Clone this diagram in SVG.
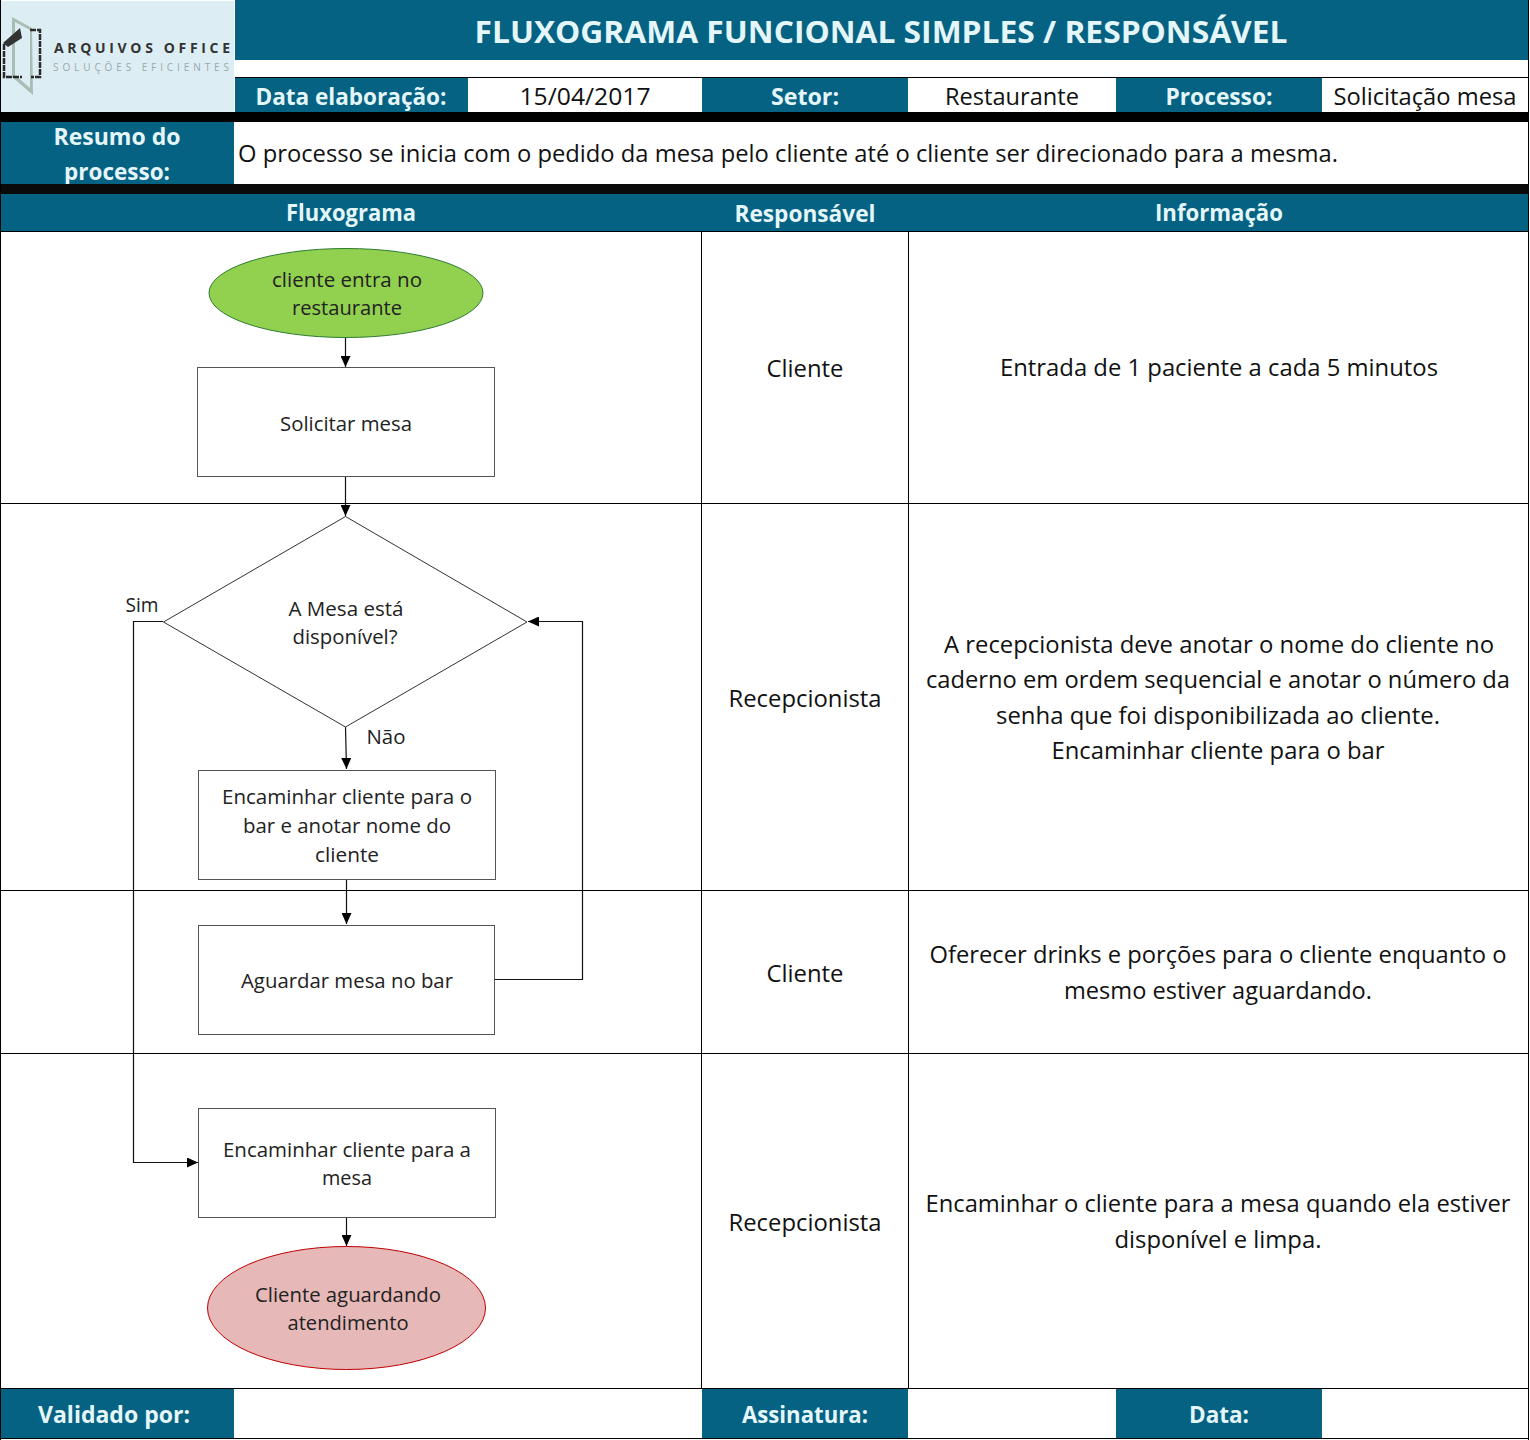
<svg xmlns="http://www.w3.org/2000/svg" width="1530" height="1440" viewBox="0 0 1530 1440">
<style>
text{font-family:"Open Sans","Noto Sans","Liberation Sans",sans-serif}
.h{fill:#E4F6FA;font-weight:700;text-anchor:middle}
.b{fill:#111;text-anchor:middle;font-size:24px}
.f{fill:#222;text-anchor:middle;font-size:20px}
.hd{fill:#056282}
.ln{stroke:#000;stroke-width:1;fill:none}
.box{fill:#fff;stroke:#555;stroke-width:1}
.c{stroke:#111;stroke-width:1.2;fill:none}
</style>
<defs><marker id="a" markerWidth="12" markerHeight="10" refX="11" refY="5" orient="auto" markerUnits="userSpaceOnUse"><path d="M0 0L11 5L0 10Z" fill="#000"/></marker></defs>
<rect width="1530" height="1440" fill="#fff"/>
<g id="header">
<rect x="1" y="1" width="233" height="111" fill="#DCEDF3"/>
<path d="M12 17L32 28L33 95L12 77Z" fill="#A9BDB5"/>
<path d="M15 22L30 30L30 88L15 75Z" fill="#DCEDF3"/>
<path d="M3 43L20 28L22 38L8 47Z" fill="#333"/>
<path d="M4 44V77H22M30 30H40V77H31" fill="none" stroke="#2b2b2b" stroke-width="2.500" stroke-dasharray="6 1"/>
<text x="54" y="53" font-size="14" font-weight="700" fill="#333" textLength="176" lengthAdjust="spacing">ARQUIVOS OFFICE</text>
<text x="53" y="71" font-size="10" fill="#9aa" textLength="176" lengthAdjust="spacing">SOLUÇÕES EFICIENTES</text>
<rect class="hd" x="235" y="0" width="1293" height="60"/>
<text class="h" x="881" y="43" font-size="31" textLength="813" lengthAdjust="spacingAndGlyphs">FLUXOGRAMA FUNCIONAL SIMPLES / RESPONSÁVEL</text>
<path class="ln" d="M235 77.500H1528M1528.500 0V1440"/>
<rect class="hd" x="235" y="78" width="233" height="34"/>
<rect class="hd" x="702" y="78" width="206" height="34"/>
<rect class="hd" x="1116" y="78" width="206" height="34"/>
<text class="h" x="351" y="105" font-size="24" textLength="191" lengthAdjust="spacingAndGlyphs">Data elaboração:</text>
<text class="b" x="585" y="105" textLength="131" lengthAdjust="spacingAndGlyphs">15/04/2017</text>
<text class="h" x="805" y="105" font-size="24" textLength="68" lengthAdjust="spacingAndGlyphs">Setor:</text>
<text class="b" x="1012" y="105" textLength="134" lengthAdjust="spacingAndGlyphs">Restaurante</text>
<text class="h" x="1219" y="105" font-size="24" textLength="107" lengthAdjust="spacingAndGlyphs">Processo:</text>
<text class="b" x="1425" y="105" textLength="183" lengthAdjust="spacingAndGlyphs">Solicitação mesa</text>
<rect x="0" y="112" width="1529" height="10" fill="#000"/>
</g>
<g id="summary">
<rect class="hd" x="1" y="122" width="233" height="62"/>
<text class="h" x="117" y="145" font-size="24" textLength="127" lengthAdjust="spacingAndGlyphs">Resumo do</text>
<text class="h" x="117" y="180" font-size="24" textLength="106" lengthAdjust="spacingAndGlyphs">processo:</text>
<text class="b" x="238" y="162" style="text-anchor:start" textLength="1100" lengthAdjust="spacingAndGlyphs">O processo se inicia com o pedido da mesa pelo cliente até o cliente ser direcionado para a mesma.</text>
<rect x="0" y="184" width="1529" height="10" fill="#0a0a0a"/>
</g>
<g id="table-head">
<rect class="hd" x="1" y="194" width="1527" height="37"/>
<text class="h" x="351" y="221" font-size="24" textLength="130" lengthAdjust="spacingAndGlyphs">Fluxograma</text>
<text class="h" x="805" y="222" font-size="24" textLength="141" lengthAdjust="spacingAndGlyphs">Responsável</text>
<text class="h" x="1219" y="221" font-size="24" textLength="128" lengthAdjust="spacingAndGlyphs">Informação</text>
</g>
<g id="grid">
<path class="ln" d="M0 231.500H1529M0 503.500H1529M0 890.500H1529M0 1053.500H1529M0 1388.500H1529M0 1438.500H1529M701.500 231V1389M908.500 231V1389M.500 0V1440"/>
<text class="b" x="805" y="377" textLength="77" lengthAdjust="spacingAndGlyphs">Cliente</text>
<text class="b" x="805" y="707" textLength="153" lengthAdjust="spacingAndGlyphs">Recepcionista</text>
<text class="b" x="805" y="982" textLength="77" lengthAdjust="spacingAndGlyphs">Cliente</text>
<text class="b" x="805" y="1231" textLength="153" lengthAdjust="spacingAndGlyphs">Recepcionista</text>
<text class="b" x="1219" y="376" textLength="438" lengthAdjust="spacingAndGlyphs">Entrada de 1 paciente a cada 5 minutos</text>
<text class="b" x="1219" y="653" textLength="550" lengthAdjust="spacingAndGlyphs">A recepcionista deve anotar o nome do cliente no</text>
<text class="b" x="1218" y="688" textLength="584" lengthAdjust="spacingAndGlyphs">caderno em ordem sequencial e anotar o número da</text>
<text class="b" x="1218" y="724" textLength="444" lengthAdjust="spacingAndGlyphs">senha que foi disponibilizada ao cliente.</text>
<text class="b" x="1218" y="759" textLength="333" lengthAdjust="spacingAndGlyphs">Encaminhar cliente para o bar</text>
<text class="b" x="1218" y="963" textLength="577" lengthAdjust="spacingAndGlyphs">Oferecer drinks e porções para o cliente enquanto o</text>
<text class="b" x="1218" y="999" textLength="308" lengthAdjust="spacingAndGlyphs">mesmo estiver aguardando.</text>
<text class="b" x="1218" y="1212" textLength="585" lengthAdjust="spacingAndGlyphs">Encaminhar o cliente para a mesa quando ela estiver</text>
<text class="b" x="1218" y="1248" textLength="207" lengthAdjust="spacingAndGlyphs">disponível e limpa.</text>
</g>
<g id="footer">
<rect class="hd" x="1" y="1389" width="233" height="49"/>
<rect class="hd" x="702" y="1389" width="206" height="49"/>
<rect class="hd" x="1116" y="1389" width="206" height="49"/>
<text class="h" x="114" y="1423" font-size="24" textLength="152" lengthAdjust="spacingAndGlyphs">Validado por:</text>
<text class="h" x="805" y="1423" font-size="24" textLength="126" lengthAdjust="spacingAndGlyphs">Assinatura:</text>
<text class="h" x="1219" y="1423" font-size="24" textLength="60" lengthAdjust="spacingAndGlyphs">Data:</text>
</g>
<g id="connectors">
<path class="c" d="M345.500 337V367" marker-end="url(#a)"/>
<path class="c" d="M345.500 476V516" marker-end="url(#a)"/>
<path class="c" d="M345.500 727L346.500 769" marker-end="url(#a)"/>
<path class="c" d="M346.500 879V924" marker-end="url(#a)"/>
<path class="c" d="M495 979.500H582.500V621.500H528" marker-end="url(#a)"/>
<path class="c" d="M163 621.500H133.500V1162.500H198" marker-end="url(#a)"/>
<path class="c" d="M346.500 1217V1246" marker-end="url(#a)"/>
</g>
<g id="n-start"><ellipse cx="346" cy="293" rx="137" ry="44.500" fill="#92D050" stroke="#2f7d32"/>
<text class="f" x="347" y="287" textLength="150" lengthAdjust="spacingAndGlyphs">cliente entra no</text><text class="f" x="347" y="315" textLength="110" lengthAdjust="spacingAndGlyphs">restaurante</text></g>
<g id="n-solicitar"><rect class="box" x="197.500" y="367.500" width="297" height="109"/>
<text class="f" x="346" y="431" textLength="132" lengthAdjust="spacingAndGlyphs">Solicitar mesa</text></g>
<g id="n-decisao"><path d="M345.500 516.500L527 622L345.500 727L163.500 622Z" fill="#fff" stroke="#333"/>
<text class="f" x="346" y="616" textLength="115" lengthAdjust="spacingAndGlyphs">A Mesa está</text><text class="f" x="345" y="644" textLength="105" lengthAdjust="spacingAndGlyphs">disponível?</text></g>
<g id="n-encaminhar-bar"><rect class="box" x="198.500" y="770.500" width="297" height="109"/>
<text class="f" x="347" y="804" textLength="250" lengthAdjust="spacingAndGlyphs">Encaminhar cliente para o</text><text class="f" x="347" y="833" textLength="208" lengthAdjust="spacingAndGlyphs">bar e anotar nome do</text><text class="f" x="347" y="862" textLength="64" lengthAdjust="spacingAndGlyphs">cliente</text></g>
<g id="n-aguardar"><rect class="box" x="198.500" y="925.500" width="296" height="109"/>
<text class="f" x="347" y="988" textLength="212" lengthAdjust="spacingAndGlyphs">Aguardar mesa no bar</text></g>
<g id="n-encaminhar-mesa"><rect class="box" x="198.500" y="1108.500" width="297" height="109"/>
<text class="f" x="347" y="1157" textLength="248" lengthAdjust="spacingAndGlyphs">Encaminhar cliente para a</text><text class="f" x="347" y="1185" textLength="50" lengthAdjust="spacingAndGlyphs">mesa</text></g>
<g id="n-fim"><ellipse cx="346.500" cy="1308" rx="139" ry="61.500" fill="#E6B8B7" stroke="#C00000"/>
<text class="f" x="348" y="1302" textLength="186" lengthAdjust="spacingAndGlyphs">Cliente aguardando</text><text class="f" x="348" y="1330" textLength="121" lengthAdjust="spacingAndGlyphs">atendimento</text></g>
<g id="labels">
<text class="f" x="142" y="612" textLength="33" lengthAdjust="spacingAndGlyphs">Sim</text>
<text class="f" x="386" y="744" textLength="39" lengthAdjust="spacingAndGlyphs">Não</text>
</g>
</svg>
